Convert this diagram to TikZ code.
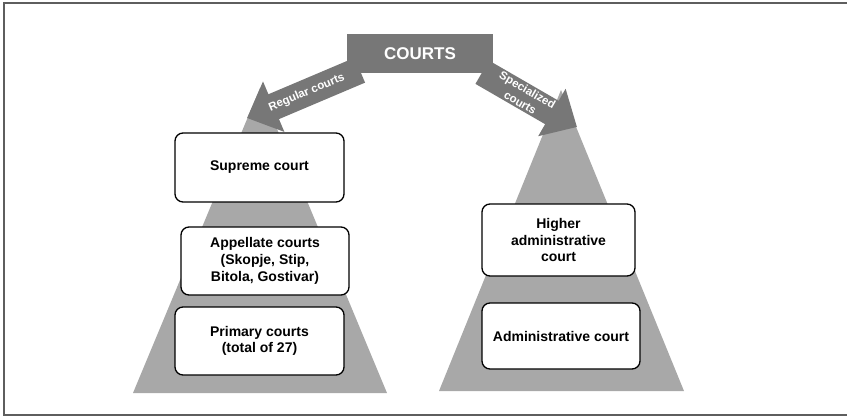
\documentclass[tikz,border=0pt]{standalone}
\usepackage{fontspec}
\setmainfont{Liberation Sans}
\usetikzlibrary{calc,positioning,arrows.meta}

\definecolor{framegray}{HTML}{5E5E5E}
\definecolor{arrowgray}{HTML}{777777}
\definecolor{pyramidgray}{HTML}{A8A8A8}

\begin{document}
\begin{tikzpicture}[
  x=1pt, y=-1pt,
  court/.style={draw, line width=1.3pt, rounded corners=8pt, fill=white, align=center,
    inner sep=2pt, font=\bfseries\fontsize{14}{16.7}\selectfont},
  branch/.style={line width=27pt, arrowgray, -{Triangle[length=29pt,width=53pt]}},
  branchlabel/.style={sloped, text=white, align=center, inner sep=1pt,
    font=\bfseries\fontsize{11.5}{14.5}\selectfont}
]
\useasboundingbox (0,0) rectangle (847,417);

% outer frame (open on the right)
\draw[framegray, line width=1.3pt] (850,3) -- (4,3) -- (4,415) -- (850,415);

% the two pyramids
\fill[pyramidgray] (260,88) -- (133,393) -- (387,393) -- cycle;
\fill[pyramidgray] (561,90) -- (439,391) -- (684,391) -- cycle;

% top node and the two branches
\node[fill=arrowgray, minimum width=146pt, minimum height=39pt, inner sep=0pt,
  text=white, font=\bfseries\fontsize{17}{20}\selectfont] (courts) at (420,53.5) {COURTS};

\coordinate (regtip) at (247,118);
\coordinate (spectip) at (577,127);

\draw[branch] ($(courts.south west)+(13,-3)$) -- (regtip)
  node[branchlabel, pos=0.47] {Regular courts};
\draw[branch] ($(courts.south east)+(-11,-1)$) -- (spectip)
  node[branchlabel, pos=0.44] {Specialized\\courts};

% regular courts
\node[court, minimum width=169pt, minimum height=69pt] (supreme) at (259.5,167.5) {Supreme court};
\node[court, minimum width=168pt, minimum height=68pt] (appellate) at (265,261)
  {Appellate courts\\(Skopje, Stip,\\Bitola, Gostivar)};
\node[court, minimum width=169pt, minimum height=68pt] (primary) at (259.5,341)
  {Primary courts\\(total of 27)};

% specialized courts
\node[court, minimum width=153pt, minimum height=72pt] (higheradmin) at (558.5,240)
  {Higher\\administrative\\court};
\node[court, minimum width=158pt, minimum height=66pt] (admin) at (561,336) {Administrative court};
\end{tikzpicture}
\end{document}
